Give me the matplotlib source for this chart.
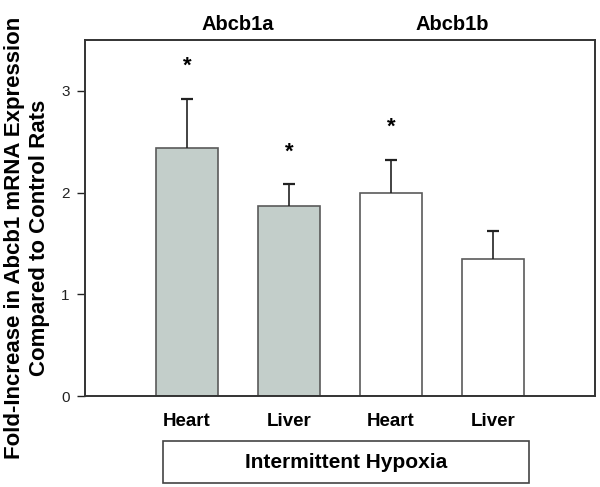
import matplotlib.pyplot as plt
from matplotlib.patches import Rectangle

# data
tissues = ["Heart", "Liver", "Heart", "Liver"]
fold_change = [2.44, 1.87, 2.00, 1.35]
sem = [0.48, 0.21, 0.32, 0.27]
significant = [True, True, True, False]
bar_colors = ["#c3ceca", "#c3ceca", "#ffffff", "#ffffff"]
genes = ["Abcb1a", "Abcb1b"]

plt.rcParams['font.family'] = ['Liberation Sans', 'DejaVu Sans']

fig = plt.figure(figsize=(6, 4.87), dpi=100)
ax = fig.add_axes([85/600, 1 - 396/487, 510/600, 356/487])

x = [1, 2, 3, 4]
ax.bar(x, fold_change, width=0.61, color=bar_colors, edgecolor="#5a5a5a", linewidth=1.2, zorder=2)

# upper error bars only
tops = [v + e for v, e in zip(fold_change, sem)]
ax.vlines(x, fold_change, tops, color="#222222", linewidth=1.2, zorder=3)
ax.hlines(tops, [xi - 0.06 for xi in x], [xi + 0.06 for xi in x], color="#222222",
          linewidth=1.6, zorder=3)

# asterisks above significant bars
for xi, t, s in zip(x, tops, significant):
    if s:
        ax.text(xi, t + 0.32, "*", ha="center", va="center", fontsize=16, fontweight="bold")

ax.set_xlim(0, 5)
ax.set_ylim(0, 3.5)
ax.set_yticks([0, 1, 2, 3])
ax.tick_params(axis="y", direction="out", length=6, width=1, labelsize=11, pad=5, colors="#222222")
ax.set_xticks(x)
ax.set_xticklabels(tissues, fontsize=13.5, fontweight="bold")
ax.tick_params(axis="x", length=0, pad=12)
for sp in ax.spines.values():
    sp.set_linewidth(1.4)
    sp.set_color("#333333")

# gene labels on top
ax.text(1.5, 1.017, genes[0], transform=ax.get_xaxis_transform(), ha="center", va="bottom",
        fontsize=14.5, fontweight="bold")
ax.text(3.6, 1.017, genes[1], transform=ax.get_xaxis_transform(), ha="center", va="bottom",
        fontsize=14.5, fontweight="bold")

fig.text(0.045, 1 - 238/487, "Fold-Increase in Abcb1 mRNA Expression\nCompared to Control Rats",
         rotation=90, ha="center", va="center", fontsize=16, fontweight="bold")

# treatment box
box = Rectangle((163/600, 1 - 483/487), 366/600, 42/487, transform=fig.transFigure,
                fill=False, edgecolor="#444444", linewidth=1.2)
fig.patches.append(box)
fig.text(346/600, 1 - 462/487, "Intermittent Hypoxia", ha="center", va="center",
         fontsize=15, fontweight="bold")

fig.savefig("out.png", dpi=100)
